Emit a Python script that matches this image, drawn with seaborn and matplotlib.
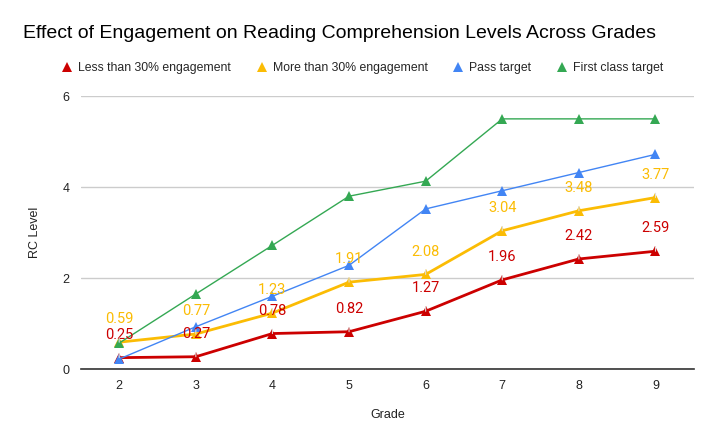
import matplotlib
matplotlib.use("Agg")
import matplotlib.pyplot as plt
from matplotlib.lines import Line2D
import pandas as pd
import seaborn as sns

grades = [2, 3, 4, 5, 6, 7, 8, 9]
less_30 = [0.25, 0.27, 0.78, 0.82, 1.27, 1.96, 2.42, 2.59]
more_30 = [0.59, 0.77, 1.23, 1.91, 2.08, 3.04, 3.48, 3.77]
pass_target = [0.22, 0.93, 1.60, 2.28, 3.52, 3.92, 4.32, 4.72]
first_class = [0.57, 1.65, 2.72, 3.80, 4.13, 5.50, 5.50, 5.50]

series_names = ["Less than 30% engagement", "More than 30% engagement",
                "Pass target", "First class target"]
series_values = [less_30, more_30, pass_target, first_class]
colors = ["#cc0000", "#fbbc04", "#4285f4", "#34a853"]
widths = [2.0, 2.0, 1.0, 1.0]
labelled = [True, True, False, False]

sns.set_theme(style="white")
plt.rcParams["font.family"] = ["Liberation Sans", "DejaVu Sans"]

fig = plt.figure(figsize=(7.16, 4.43), dpi=100)
ax = fig.add_axes([0.113, 0.167, 0.856, 0.616])

for name, vals, col, lw in zip(series_names, series_values, colors, widths):
    df = pd.DataFrame({"Grade": grades, "RC Level": vals})
    sns.lineplot(data=df, x="Grade", y="RC Level", color=col, lw=lw, marker="^",
                 markersize=7.5, markeredgewidth=0, ax=ax, label=name, legend=False)

# data labels with thin leader lines (only the engagement series)
for vals, col, show in zip(series_values, colors, labelled):
    if not show:
        continue
    for g, v in zip(grades, vals):
        ax.annotate(f"{v:.2f}", xy=(g, v), xytext=(0, 16.5), textcoords="offset points",
                    ha="center", va="center", fontsize=10.5, color=col,
                    family=["Roboto", "DejaVu Sans"],
                    arrowprops=dict(arrowstyle="-", color="#dddddd", lw=0.8,
                                    shrinkA=6, shrinkB=4))

ax.set_xlim(1.5, 9.5)
ax.set_ylim(0, 6)
ax.set_yticks([0, 2, 4, 6])
ax.set_xticks(grades)
ax.grid(axis="y", color="#cccccc", lw=1)
ax.set_axisbelow(True)
for s in ["top", "right", "left"]:
    ax.spines[s].set_visible(False)
ax.spines["bottom"].set_color("#333333")
ax.spines["bottom"].set_linewidth(1.2)
ax.tick_params(axis="both", length=0, labelsize=9, colors="#222222", pad=8)
ax.set_xlabel("Grade", fontsize=9, color="#222222", labelpad=12)
ax.set_ylabel("RC Level", fontsize=9, color="#222222", labelpad=16)

fig.text(0.032, 0.925, "Effect of Engagement on Reading Comprehension Levels Across Grades",
         fontsize=14, color="#000000", ha="left", va="center")

handles = [Line2D([], [], ls="none", marker="^", markersize=7.5, markeredgewidth=0, color=c)
           for c in colors]
fig.legend(handles, series_names, loc="center", bbox_to_anchor=(0.505, 0.847), ncol=4,
           frameon=False, fontsize=8.8, handletextpad=0.3, columnspacing=1.9,
           handlelength=1.2)

fig.savefig("out.png", dpi=100)
